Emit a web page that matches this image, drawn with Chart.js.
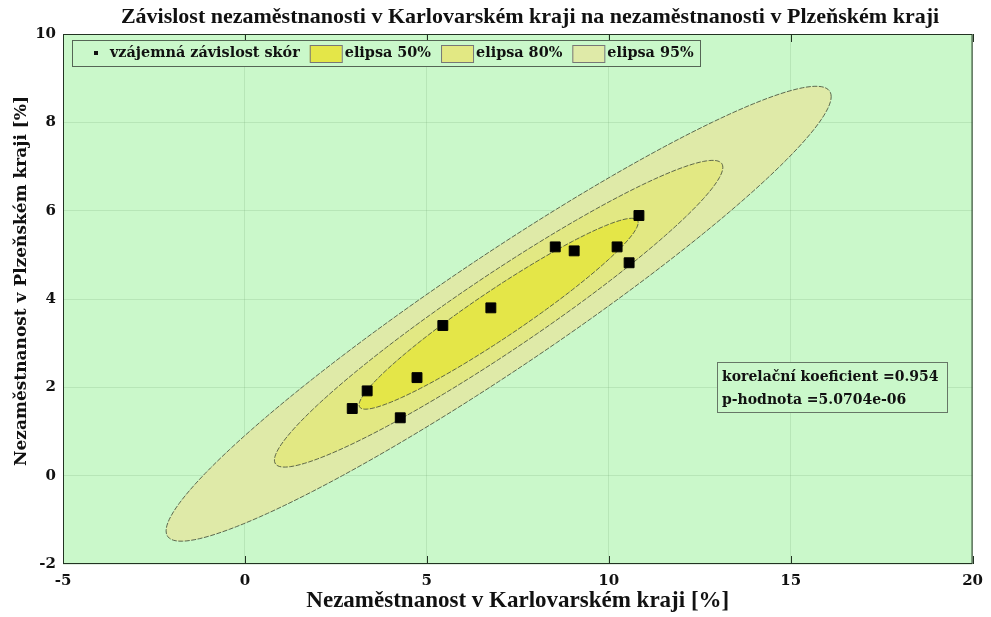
<!DOCTYPE html>
<html>
<head>
<meta charset="utf-8">
<script src="https://cdn.jsdelivr.net/npm/chart.js@4"></script>
<style>
  body { margin: 0; background: #fff; }
  #wrap { width: 991px; height: 617px; position: relative; }
</style>
</head>
<body>
<div id="wrap"><canvas id="ellipse-chart"></canvas></div>
<script>
// unemployment rates [%]
const karlovarsky = [2.95, 3.36, 4.27, 4.73, 5.44, 6.76, 8.53, 9.05, 10.23, 10.56, 10.83];
const plzensky = [1.52, 1.92, 1.31, 2.22, 3.40, 3.80, 5.18, 5.09, 5.18, 4.82, 5.89];
const ellipseLevels = [0.5, 0.8, 0.95];
const ellipseLabels = ['elipsa 50%', 'elipsa 80%', 'elipsa 95%'];
const ellipseColors = ['#e4e648', '#e2e883', '#dfeaa8'];
const xTicks = [-5, 0, 5, 10, 15, 20];
const yTicks = [-2, 0, 2, 4, 6, 8, 10];
const statLines = ['korelační koeficient =0.954', 'p-hodnota =5.0704e-06'];

const titleText = 'Závislost nezaměstnanosti v Karlovarském kraji na nezaměstnanosti v Plzeňském kraji';
const yTitle = 'Nezaměstnanost v Plzeňském kraji [%]';
const bgGreen = '#caf8ca';

// prediction ellipse from the sample covariance (F quantile with 2 dof closed form)
function ellipsePoints(level) {
    const n = karlovarsky.length;
    const mx = karlovarsky.reduce((a, b) => a + b, 0) / n;
    const my = plzensky.reduce((a, b) => a + b, 0) / n;
    let sxx = 0, syy = 0, sxy = 0;
    for (let i = 0; i < n; i++) {
        const dx = karlovarsky[i] - mx, dy = plzensky[i] - my;
        sxx += dx * dx; syy += dy * dy; sxy += dx * dy;
    }
    sxx /= n; syy /= n; sxy /= n;
    const F = (n - 2) / 2 * (Math.pow(1 - level, -2 / (n - 2)) - 1);
    const k = Math.sqrt(2 * (n - 1) * (n + 1) / (n * (n - 2)) * F);
    const a = Math.sqrt(sxx), b = sxy / a, c = Math.sqrt(syy - b * b);
    const pts = [];
    for (let i = 0; i <= 180; i++) {
        const t = 2 * Math.PI * i / 180;
        const u = Math.cos(t), v = Math.sin(t);
        pts.push({ x: mx + k * a * u, y: my + k * (b * u + c * v) });
    }
    return pts;
}

const datasets = [{
    label: 'vzájemná závislost skór',
    data: karlovarsky.map((x, i) => ({ x: x, y: plzensky[i] })),
    pointStyle: 'rect',
    pointRadius: 7,
    backgroundColor: '#000',
    borderColor: '#000',
    showLine: false,
    order: 0,
}];
ellipseLevels.forEach((lvl, i) => {
    datasets.push({
        label: ellipseLabels[i],
        data: ellipsePoints(lvl),
        showLine: true,
        fill: 'shape',
        backgroundColor: ellipseColors[i],
        borderColor: 'rgba(70,80,60,0.85)',
        borderWidth: 1,
        borderDash: [5, 1.5],
        pointRadius: 0,
        tension: 0,
        order: i + 1,
    });
});

const serif = 'DejaVu Serif';
const narrowSerif = 'Liberation Serif';

const decor = {
    id: 'decor',
    beforeDraw(chart) {
        const { ctx, chartArea: a } = chart;
        ctx.save();
        ctx.fillStyle = bgGreen;
        ctx.fillRect(a.left, a.top, a.right - a.left, a.bottom - a.top);
        ctx.restore();
    },
    afterDraw(chart) {
        const { ctx, chartArea: a } = chart;
        ctx.save();
        // title
        ctx.fillStyle = '#111';
        ctx.font = 'bold 22px "' + narrowSerif + '"';
        ctx.textAlign = 'center';
        ctx.textBaseline = 'middle';
        ctx.fillText(titleText, 530, 17);

        // y axis title
        ctx.save();
        ctx.translate(22, 281);
        ctx.rotate(-Math.PI / 2);
        ctx.font = 'bold 17px "' + serif + '"';
        ctx.fillText(yTitle, 0, 0);
        ctx.restore();

        // plot frame + small inward ticks
        ctx.strokeStyle = '#223322';
        ctx.lineWidth = 1;
        ctx.strokeRect(a.left + 0.5, a.top + 0.5, a.right - a.left - 1, a.bottom - a.top - 1);
        const xs = chart.scales.x;
        xTicks.forEach(v => {
            const px = Math.round(xs.getPixelForValue(v)) + 0.5;
            ctx.beginPath();
            ctx.moveTo(px, a.top); ctx.lineTo(px, a.top + 8);
            ctx.moveTo(px, a.bottom); ctx.lineTo(px, a.bottom - 8);
            ctx.stroke();
        });

        // legend box
        ctx.font = 'bold 14.4px "' + serif + '"';
        ctx.textAlign = 'left';
        ctx.fillStyle = bgGreen;
        ctx.fillRect(72, 40, 628, 26);
        ctx.strokeStyle = '#556655';
        ctx.strokeRect(72.5, 40.5, 628, 26);
        ctx.fillStyle = '#111';
        ctx.fillRect(94, 51, 4, 4);
        ctx.fillText(datasets[0].label, 110, 53.5);
        let lx = 110 + ctx.measureText(datasets[0].label).width + 10;
        ellipseLabels.forEach((lbl, i) => {
            ctx.fillStyle = ellipseColors[i];
            ctx.fillRect(lx, 45, 32, 17);
            ctx.strokeStyle = '#777';
            ctx.strokeRect(lx + 0.5, 45.5, 32, 17);
            ctx.fillStyle = '#111';
            ctx.fillText(lbl, lx + 35, 53.5);
            lx += 35 + ctx.measureText(lbl).width + 10;
        });

        // statistics box
        ctx.fillStyle = bgGreen;
        ctx.fillRect(717, 362, 230, 50);
        ctx.strokeStyle = '#667766';
        ctx.strokeRect(717.5, 362.5, 230, 50);
        ctx.fillStyle = '#111';
        ctx.font = 'bold 14px "' + serif + '"';
        statLines.forEach((s, i) => ctx.fillText(s, 722, 377 + i * 23));
        ctx.restore();
    }
};

new Chart(document.getElementById('ellipse-chart'), {
    type: 'scatter',
    data: { datasets: datasets },
    options: {
        responsive: true,
        maintainAspectRatio: false,
        animation: false,
        layout: { padding: { top: 34, right: 14, left: 0, bottom: 0 } },
        plugins: {
            legend: { display: false },
            tooltip: { enabled: false },
        },
        scales: {
            x: {
                type: 'linear',
                min: -5, max: 20,
                afterFit(axis) { axis.height = 53; },
                afterBuildTicks(axis) { axis.ticks = xTicks.map(v => ({ value: v })); },
                grid: { color: 'rgba(120,170,120,0.22)', drawTicks: false },
                border: { display: false },
                ticks: { padding: 8, color: '#111', font: { family: serif, weight: 'bold', size: 15 } },
                title: {
                    display: true,
                    text: 'Nezaměstnanost v Karlovarském kraji [%]',
                    color: '#111',
                    font: { family: narrowSerif, weight: 'bold', size: 23 },
                    padding: { top: 0, bottom: 2 },
                },
            },
            y: {
                type: 'linear',
                min: -2, max: 10,
                afterFit(axis) { axis.width = 63; },
                afterBuildTicks(axis) { axis.ticks = yTicks.map(v => ({ value: v })); },
                grid: { color: 'rgba(120,170,120,0.22)', drawTicks: false },
                border: { display: false },
                ticks: { padding: 7, color: '#111', font: { family: serif, weight: 'bold', size: 15 } },
            },
        },
    },
    plugins: [decor],
});
</script>
</body>
</html>
